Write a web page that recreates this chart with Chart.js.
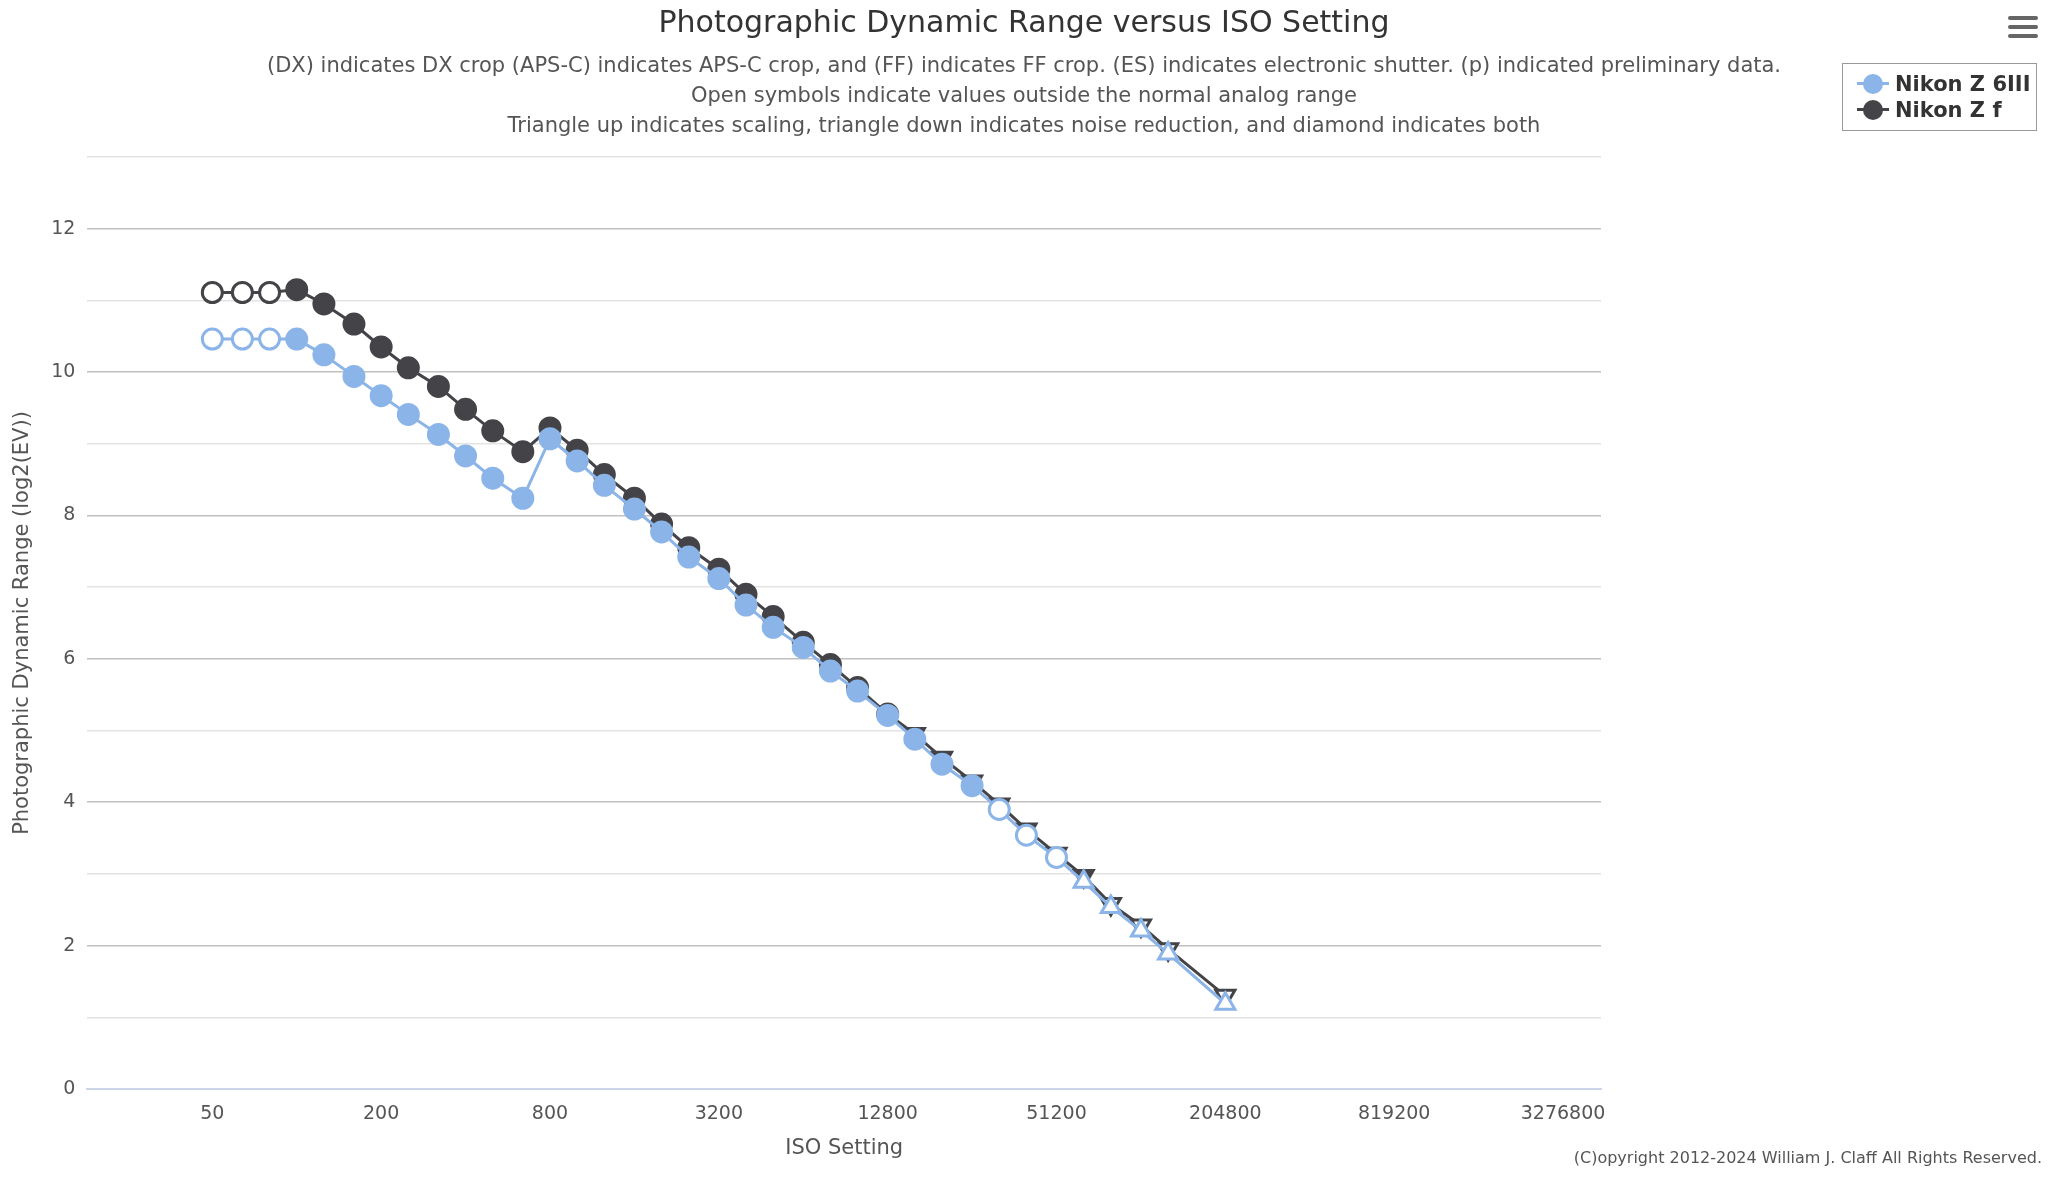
<!DOCTYPE html>
<html><head><meta charset="utf-8">
<script src="https://cdn.jsdelivr.net/npm/chart.js@4/dist/chart.umd.min.js"></script>
<style>
body{margin:0;background:#fff;font-family:"DejaVu Sans",sans-serif;}
#wrap{position:relative;width:2048px;height:1179px;}
canvas{position:absolute;left:0;top:0;}
.t{position:absolute;left:0;width:2048px;text-align:center;color:#333;white-space:nowrap;}
#legend{position:absolute;left:1842px;top:63px;width:195px;height:68px;border:1px solid #999;box-sizing:border-box;font-weight:bold;font-size:21px;color:#333;}
.li{position:absolute;left:14px;height:26px;line-height:26px;}
.sw{display:inline-block;position:relative;width:32px;height:26px;vertical-align:top;margin-right:6px;}
.sw i{position:absolute;left:0;top:11px;width:32px;height:3px;}
.sw b{position:absolute;left:6px;top:3px;width:20px;height:20px;border-radius:50%;}
#menu{position:absolute;left:2008px;top:16px;width:30px;}
#menu div{height:4px;background:#666;margin-bottom:5px;border-radius:2px;}
</style></head><body>
<div id="wrap">
<canvas id="c" width="2048" height="1179"></canvas>
<div class="t" style="top:4px;font-size:30px;">Photographic Dynamic Range versus ISO Setting</div>
<div class="t" style="top:53px;font-size:21px;color:#555;">(DX) indicates DX crop (APS-C) indicates APS-C crop, and (FF) indicates FF crop. (ES) indicates electronic shutter. (p) indicated preliminary data.</div>
<div class="t" style="top:83px;font-size:21px;color:#555;">Open symbols indicate values outside the normal analog range</div>
<div class="t" style="top:113px;font-size:21px;color:#555;">Triangle up indicates scaling, triangle down indicates noise reduction, and diamond indicates both</div>
<div id="legend">
 <div class="li" style="top:7px"><span class="sw"><i style="background:#8bb4e8"></i><b style="background:#8bb4e8"></b></span>Nikon Z 6III</div>
 <div class="li" style="top:33px"><span class="sw"><i style="background:#434348"></i><b style="background:#434348"></b></span>Nikon Z f</div>
</div>
<div id="menu"><div></div><div></div><div></div></div>
<div style="position:absolute;right:6px;top:1148px;font-size:16px;color:#555;">(C)opyright 2012-2024 William J. Claff All Rights Reserved.</div>
</div>
<script>
const isoSettings=[50,64,80,100,125,160,200,250,320,400,500,640,800,1000,1250,1600,2000,2500,3200,4000,5000,6400,8000,10000,12800,16000,20000,25600,32000,40000,51200,64000,80000,102400,128000,204800];
const z6iii=[10.46,10.46,10.46,10.46,10.24,9.94,9.67,9.41,9.13,8.83,8.52,8.24,9.07,8.76,8.42,8.09,7.77,7.42,7.12,6.75,6.44,6.16,5.83,5.55,5.21,4.88,4.53,4.23,3.90,3.54,3.23,2.89,2.54,2.21,1.89,1.19];
const zf=[11.11,11.11,11.11,11.15,10.95,10.67,10.35,10.06,9.80,9.48,9.18,8.89,9.22,8.91,8.57,8.24,7.88,7.55,7.25,6.90,6.59,6.23,5.92,5.60,5.23,4.95,4.62,4.29,3.97,3.62,3.28,2.97,2.58,2.28,1.95,1.30];
const xTickLabels=[50,200,800,3200,12800,51200,204800,819200,3276800];
const seriesNames=['Nikon Z 6III','Nikon Z f'];

const BLUE='#8bb4e8', DARK='#434348';
function pts(vals){return vals.map((v,i)=>({x:Math.log2(isoSettings[i]),y:v}));}
// blue: open circle 0-2, filled 3-27, open circle 28-30, open triangle up 31+
const bOpen=i=>i<3||i>=28;
const bStyle=i=>i>=31?'triangle':'circle';
// dark: open circle 0-2, filled 3-24, filled triangle down 25-31, open triangle down 32+
const dOpen=i=>i<3||i>=32;
const dStyle=i=>i>=25?'triangle':'circle';

new Chart(document.getElementById('c'),{
 type:'line',
 data:{datasets:[
  {label:seriesNames[0],data:pts(z6iii),borderColor:BLUE,borderWidth:3,
   pointStyle:z6iii.map((v,i)=>bStyle(i)),
   pointRadius:z6iii.map((v,i)=>bStyle(i)==='triangle'?11:10),
   pointBackgroundColor:z6iii.map((v,i)=>bOpen(i)?'#fff':BLUE),
   pointBorderColor:BLUE,pointBorderWidth:3,tension:0},
  {label:seriesNames[1],data:pts(zf),borderColor:DARK,borderWidth:3,
   pointStyle:zf.map((v,i)=>dStyle(i)),
   pointRotation:zf.map((v,i)=>dStyle(i)==='triangle'?180:0),
   pointRadius:zf.map((v,i)=>dStyle(i)==='triangle'?11:10),
   pointBackgroundColor:zf.map((v,i)=>dOpen(i)?'#fff':DARK),
   pointBorderColor:DARK,pointBorderWidth:3,tension:0}
 ]},
 options:{responsive:false,animation:false,
  layout:{padding:{top:157,right:447,bottom:14,left:6}},
  plugins:{legend:{display:false},tooltip:{enabled:false}},
  scales:{
   x:{type:'linear',min:Math.log2(50)-1.48,max:Math.log2(50)+16.45,
    afterBuildTicks:a=>{a.ticks=xTickLabels.map(v=>({value:Math.log2(v)}));},
    ticks:{callback:(v)=>String(Math.round(Math.pow(2,v))),font:{family:'DejaVu Sans',size:19},color:'#555',maxRotation:0,autoSkip:false,padding:6},
    grid:{display:false,drawTicks:true},border:{color:'#ccd6eb',width:2},
    title:{display:true,text:'ISO Setting',font:{family:'DejaVu Sans',size:21},color:'#555',padding:{top:4}}},
   y:{min:0,max:13,
    ticks:{stepSize:1,callback:v=>v%2===0&&v<=12?String(v):'',font:{family:'DejaVu Sans',size:19},color:'#555',padding:12},
    grid:{color:c=>c.tick.value%2===0?'#c0c0c0':'#e3e3e3',lineWidth:1.5,drawTicks:false},border:{display:false},
    title:{display:true,text:'Photographic Dynamic Range (log2(EV))',font:{family:'DejaVu Sans',size:21},color:'#555'}}
  }}
});
</script>
</body></html>
